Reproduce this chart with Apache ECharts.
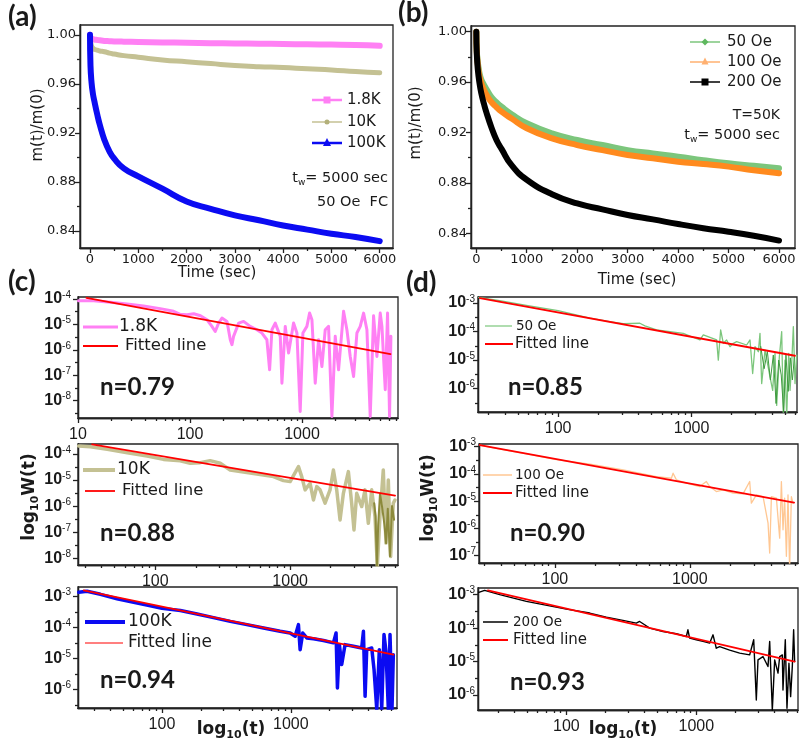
<!DOCTYPE html>
<html><head><meta charset="utf-8">
<script src="https://cdn.jsdelivr.net/npm/echarts@6/dist/echarts.min.js"></script>
<style>html,body{margin:0;padding:0;background:#fff}#c{width:803px;height:743px}</style>
</head><body><div id="c"></div><script>
// ---------------- DATA ----------------
// (a) relaxation at different temperatures, t_w = 5000 s, 50 Oe FC
const timeA = [0, 10, 30, 60, 100, 150, 200, 300, 400, 500, 700, 1000, 1500, 2000, 2500, 3000, 3500, 4000, 4500, 5000, 5500, 6000];
const m_1p8K = [1.000, 0.998, 0.997, 0.9965, 0.996, 0.9958, 0.9955, 0.995, 0.9948, 0.9946, 0.9944, 0.9942, 0.9938, 0.9935, 0.9932, 0.993, 0.9927, 0.9925, 0.9922, 0.992, 0.9917, 0.991];
const m_10K = [1.000, 0.995, 0.991, 0.989, 0.988, 0.9875, 0.9868, 0.9862, 0.985, 0.9843, 0.983, 0.9817, 0.9795, 0.978, 0.9765, 0.975, 0.974, 0.9733, 0.9722, 0.9713, 0.970, 0.969];
const m_100K = [1.000, 0.975, 0.962, 0.952, 0.944, 0.935, 0.927, 0.914, 0.905, 0.899, 0.891, 0.8845, 0.8744, 0.864, 0.858, 0.8526, 0.8486, 0.8444, 0.841, 0.8376, 0.835, 0.8316];
// (b) relaxation at T = 50 K for different fields
const timeB = [0, 10, 30, 60, 100, 150, 200, 300, 400, 500, 700, 1000, 1500, 2000, 2500, 3000, 3500, 4000, 4500, 5000, 5500, 6000];
const m_50Oe = [1.000, 0.985, 0.976, 0.968, 0.962, 0.958, 0.9545, 0.948, 0.944, 0.9405, 0.9345, 0.9273, 0.9193, 0.914, 0.910, 0.906, 0.9033, 0.9008, 0.898, 0.8955, 0.8935, 0.8916];
const m_100Oe = [1.000, 0.984, 0.974, 0.965, 0.959, 0.954, 0.950, 0.944, 0.940, 0.9365, 0.931, 0.9233, 0.9153, 0.910, 0.906, 0.9021, 0.8995, 0.8968, 0.895, 0.8929, 0.890, 0.8876];
const m_200Oe = [1.000, 0.982, 0.970, 0.960, 0.951, 0.943, 0.936, 0.924, 0.914, 0.907, 0.894, 0.8825, 0.871, 0.8637, 0.859, 0.8545, 0.851, 0.8473, 0.844, 0.8412, 0.838, 0.8342];
const timeTicks = [0, 1000, 2000, 3000, 4000, 5000, 6000];
const timeMinor = [500, 1500, 2500, 3500, 4500, 5500];
const mTicks = [0.84, 0.88, 0.92, 0.96, 1.00];
const mMinor = [0.86, 0.90, 0.94, 0.98];

// (c) relaxation rate W(t), pairs [t, W]
const w_1p8K = [[10.1,8.6e-5],[13.8,8.5e-5],[19.5,7.4e-5],[27.4,6.4e-5],[38.5,5.3e-5],[54.3,4.2e-5],[71.5,3.3e-5],[81.8,2.5e-5],[94,2.41e-5],[108,2.64e-5],[124,2.2e-5],[142,1.53e-5],[157,8.4e-6],[168,5.3e-6],[180,1.13e-5],[193,1.78e-5],[214,1.32e-5],[229,2.5e-6],[237,1.6e-6],[245,3.4e-6],[272,1.13e-5],[301,1.32e-5],[345,8.4e-6],[396,6.2e-6],[439,4.6e-6],[486,2.5e-6],[514,1.65e-7],[539,6.2e-6],[577,1.13e-5],[597,1.32e-5],[640,3.4e-6],[662,4.9e-8],[709,8.4e-6],[759,7.5e-7],[841,1.13e-5],[901,4.6e-6],[964,3.8e-9],[1019,4.6e-6],[1106,8.4e-6],[1169,2.8e-5],[1227,1.53e-5],[1313,4.9e-8],[1406,2.5e-6],[1506,2.2e-7],[1613,6.2e-6],[1727,8.4e-6],[1850,2.4e-9],[1981,3.4e-6],[2122,1.65e-7],[2351,3.3e-5],[2518,6.2e-6],[2697,5.5e-7],[2889,9e-8],[3093,4.6e-6],[3313,8.4e-6],[3548,2.8e-5],[3800,6.2e-6],[4068,2.4e-9],[4357,2.2e-5],[4667,5.5e-7],[4998,2.8e-5],[5174,8.4e-6],[5540,2.7e-8],[5808,2.8e-5],[6053,2.4e-9],[6223,3.4e-6]];
const fit_1p8K = [[11.9,1.1e-4],[6170,6.8e-7]];
const w_10K = [[27,2.03e-4],[33,1.91e-4],[44,1.51e-4],[62,1.12e-4],[87,8.4e-5],[115,6.2e-5],[153,5.5e-5],[182,4.4e-5],[215,4.65e-5],[255,5.55e-5],[303,4.4e-5],[359,2.44e-5],[477,1.93e-5],[634,1.57e-5],[752,1.35e-5],[892,9.5e-6],[1000,8.7e-6],[1153,3.27e-5],[1219,1.35e-5],[1291,4.2e-6],[1406,7.5e-6],[1489,1.72e-6],[1575,5.6e-6],[1667,4.2e-6],[1816,1.29e-6],[1977,4.2e-6],[2094,2.44e-5],[2215,4.2e-6],[2345,2.95e-7],[2483,3.1e-6],[2704,2.1e-5],[2860,1.29e-6],[2976,1.22e-7],[3117,3.1e-6],[3396,9.6e-7],[3593,4.2e-6],[3802,2.2e-7],[4027,4.2e-6],[4260,4.0e-7],[4433,4.8e-9],[4637,4.0e-7],[4909,2.44e-5],[5138,3.8e-8],[5348,1.0e-5],[5564,1.16e-8],[5821,1.29e-6],[5987,1.72e-6]];
const w_10K_dark = [[4200,1.3e-6],[4300,4e-7],[4400,5e-9],[4500,2e-7],[4640,3e-6],[4800,1e-6],[5000,2e-7],[5150,3.8e-8],[5300,8e-7],[5500,1.2e-8],[5700,1e-6],[5900,3e-7]];
const fit_10K = [[34,2.35e-4],[6000,2.53e-6]];
const w_100K = [[22.6,1.35e-3],[26.2,1.46e-3],[33.3,1.16e-3],[44.8,8.4e-4],[60.3,6.4e-4],[81.3,5.0e-4],[100,4.1e-4],[139,3.5e-4],[187,2.71e-4],[251,2.07e-4],[339,1.57e-4],[456,1.23e-4],[614,9.6e-5],[826,7.5e-5],[988,6.6e-5],[1081,5.2e-5],[1146,1.23e-4],[1181,1.93e-5],[1238,6.6e-5],[1330,4.6e-5],[1500,4.3e-5],[1792,3.8e-5],[2142,3.2e-5],[2245,6.6e-5],[2300,1.13e-6],[2382,2.8e-5],[2483,6.4e-6],[2636,2.8e-5],[3062,2.47e-5],[3550,2.19e-5],[3660,7.5e-5],[3771,6.1e-7],[3882,1.93e-5],[4246,2.19e-5],[4426,4.4e-6],[4645,2.3e-7],[4864,1.93e-5],[5075,2.3e-7],[5287,5.9e-5],[5478,1.71e-5],[5715,2.3e-7],[5888,5.9e-5],[6099,2.3e-7],[6247,1.33e-5]];
const fit_100K = [[24.7,1.56e-3],[6250,1.33e-5]];
// (d)
const w_50Oe = [[25.4,1.58e-3],[36.5,1.21e-3],[57.9,8.3e-4],[100,5.4e-4],[173,2.94e-4],[244,2.25e-4],[308,1.9e-4],[410,1.96e-4],[447,1.58e-4],[547,1.14e-4],[689,9.98e-5],[867,8.7e-5],[1156,5.07e-5],[1225,7.6e-5],[1542,5.07e-5],[1587,9.97e-6],[1652,1.14e-4],[1730,3.87e-5],[1832,5.07e-5],[1941,2.95e-5],[2056,3.87e-5],[2178,4.43e-5],[2588,3.38e-5],[2742,5.07e-5],[2871,3.37e-6],[2989,2.95e-5],[3166,1.96e-5],[3258,8.7e-5],[3354,1.5e-6],[3553,2.25e-5],[3873,2.58e-6],[4055,8.7e-7],[4222,1.71e-5],[4345,2.58e-7],[4550,1.31e-5],[4737,9.98e-5],[4875,1.0e-7],[5017,9.97e-6],[5164,1.0e-7],[5346,1.71e-5],[5470,8.7e-7],[5630,7.6e-6],[5794,1.5e-4],[5963,1.5e-6],[6138,1.5e-5]];
const w_50Oe_dark = [[3300,3e-5],[3500,5e-6],[3700,2e-5],[3900,2e-6],[4100,1.5e-5],[4300,3e-7],[4500,1e-5],[4700,3e-6],[4900,1.5e-7],[5100,1.5e-5],[5300,8e-7],[5500,1.2e-5],[5700,2e-6],[5900,1.3e-5]];
const fit_50Oe = [[25.9,1.5e-3],[5957,1.42e-5]];
const w_100Oe = [[27.8,1.15e-3],[39.2,8.2e-4],[61.6,5.4e-4],[100,3.44e-4],[182,2.3e-4],[321,1.40e-4],[566,8.0e-5],[731,6.95e-5],[752,1.06e-4],[796,6.04e-5],[944,4.56e-5],[1185,3.44e-5],[1327,5.25e-5],[1406,3.44e-5],[1575,2.26e-5],[1766,2.6e-5],[2094,1.96e-5],[2483,1.86e-5],[2780,5.25e-5],[2860,8.45e-6],[3117,1.71e-5],[3493,1.48e-5],[3802,1.57e-6],[3910,1.25e-7],[4027,1.48e-5],[4385,1.29e-5],[4637,4.4e-7],[4775,5.25e-5],[4909,8.95e-7],[5047,1.29e-5],[5200,9.5e-8],[5346,1.71e-5],[5495,3.1e-8],[5662,1.48e-5],[5821,8.45e-6]];
const fit_100Oe = [[27.8,1.15e-3],[5930,8.9e-6]];
const w_200Oe = [[21.2,1.17e-3],[23.5,1.35e-3],[30.7,1.0e-3],[49.2,6.3e-4],[100,3.7e-4],[151,2.82e-4],[203,2.14e-4],[272,1.70e-4],[345,1.41e-4],[366,1.58e-4],[400,1.26e-4],[437,1.0e-4],[554,7.9e-5],[701,6.8e-5],[837,5.6e-5],[861,8.9e-5],[887,5.0e-5],[998,4.5e-5],[1124,4.0e-5],[1265,3.55e-5],[1343,6.3e-5],[1423,2.5e-5],[1510,2.8e-5],[1803,2.2e-5],[2153,1.78e-5],[2570,1.58e-5],[2761,4.5e-5],[2891,7.1e-7],[2979,1.12e-5],[3253,1.41e-5],[3556,7.1e-6],[3664,4.0e-5],[3839,3.5e-7],[4002,1.12e-5],[4245,4.5e-6],[4374,1.41e-5],[4583,1.58e-5],[4637,1.41e-6],[4831,4.5e-5],[4977,4.0e-7],[5153,8.9e-6],[5309,8.9e-7],[5470,7.1e-6],[5600,8.9e-5],[5699,1.0e-5]];
const fit_200Oe = [[24.9,1.35e-3],[5700,1.0e-5]];
const logXMajor = [10, 100, 1000];
const logXMinor = [20,30,40,50,60,70,80,90,200,300,400,500,600,700,800,900,2000,3000,4000,5000,6000,7000];

// ---------------- STYLE / LAYOUT ----------------
const FD = 'DejaVu Sans', FL = 'Liberation Sans', FB = 'Lato';
const INK = '#1a1a1a';
const C = {pink:'#ff80f4', tan:'#c4c193', darkOlive:'#8c8a3c', blue:'#0b0bf2', green:'#7cc67c', darkGreen:'#3f9a3f', orange:'#ff8a1e', lorange:'#ffc793', black:'#000', red:'#ff0000'};

const grids = [], xAxes = [], yAxes = [], series = [];
function pw(a, b) { return Math.pow(10, a + (b || 0)); }

function addPanel(p) {
  const gi = grids.length;
  grids.push({left: p.l, top: p.t, width: p.r - p.l, height: p.b - p.t, show: true, borderColor: '#222', borderWidth: 1.3});
  grids.push({left: p.l, top: p.t, width: p.r - p.l, height: p.b - p.t, show: false});
  const type = p.log ? 'log' : 'value';
  const ax = (gidx, min, max, ticks, len, label) => ({
    gridIndex: gidx, type: type, min: min, max: max,
    axisLine: {show: true, onZero: false, lineStyle: {color: '#222', width: 1.3}},
    splitLine: {show: false},
    axisTick: {show: true, length: len, customValues: ticks.slice(), lineStyle: {color: '#222', width: 1.3}},
    axisLabel: label ? Object.assign({customValues: ticks.slice()}, label) : {show: false}
  });
  xAxes.push(ax(gi, p.xmin, p.xmax, p.xt, 5, {margin: p.xm, fontFamily: p.log ? FL : FD, fontSize: p.log ? 16 : 13, color: INK, formatter: v => String(Math.round(v))}));
  xAxes.push(ax(gi + 1, p.xmin, p.xmax, p.xmi, 3, null));
  yAxes.push(ax(gi, p.ymin, p.ymax, p.yt, 5, p.log ? {margin: p.ym, color: INK,
        formatter: v => '{b|10}{s|' + Math.round(Math.log10(v)) + '}',
        rich: {b: {fontFamily: FL, fontSize: 16, fontWeight: 'bold', color: INK, lineHeight: 18},
               s: {fontFamily: FL, fontSize: 10, color: INK, verticalAlign: 'top', lineHeight: 11}}}
      : {margin: p.ym, fontFamily: FD, fontSize: 13, color: INK, formatter: v => v.toFixed(2)}));
  yAxes.push(ax(gi + 1, p.ymin, p.ymax, p.ymi, 3, null));
  p.series.forEach(s => {
    series.push({type: 'line', xAxisIndex: gi, yAxisIndex: gi, data: s.data, symbol: 'none', showSymbol: false,
      smooth: !!s.smooth, clip: true, silent: true, z: s.z || 2,
      lineStyle: {color: s.color, width: s.width, join: 'round', cap: 'round'}});
  });
}
const zipXY = (xs, ys) => xs.map((x, i) => [x, ys[i]]);
const inRange = (arr, lo, hi) => arr.filter(v => v >= lo && v <= hi);

addPanel({l: 80, t: 25, r: 393, b: 248, xmin: -207, xmax: 6275, ymin: 0.826, ymax: 1.008, xt: timeTicks, xmi: timeMinor, yt: mTicks, ymi: mMinor, xm: 5, ym: 4,
  series: [
    {data: zipXY(timeA, m_1p8K), color: C.pink, width: 6, smooth: true},
    {data: zipXY(timeA, m_10K), color: C.tan, width: 5, smooth: true},
    {data: zipXY(timeA, m_100K), color: C.blue, width: 6, smooth: true}]});
addPanel({l: 471, t: 26, r: 795, b: 248, xmin: -105, xmax: 6317, ymin: 0.8283, ymax: 1.0045, xt: timeTicks, xmi: timeMinor, yt: mTicks, ymi: mMinor, xm: 5, ym: 4,
  series: [
    {data: zipXY(timeB, m_50Oe), color: C.green, width: 6, smooth: true},
    {data: zipXY(timeB, m_100Oe), color: C.orange, width: 6, smooth: true},
    {data: zipXY(timeB, m_200Oe), color: C.black, width: 6, smooth: true}]});

function logPanel(p, lines) {
  p.log = true;
  p.xt = inRange(logXMajor, p.xmin, p.xmax);
  p.xmi = inRange(logXMinor, p.xmin, p.xmax);
  const lo = Math.ceil(Math.log10(p.ymin) - 1e-9), hi = Math.floor(Math.log10(p.ymax) + 1e-9);
  p.yt = []; p.ymi = [];
  for (let e = hi; e >= lo; e--) p.yt.push(pw(e));
  for (let e = hi; e >= lo - 1; e--) { const v = pw(e, -0.5); if (v > p.ymin && v < p.ymax) p.ymi.push(v); }
  p.series = lines;
  addPanel(p);
}
logPanel({l: 78, t: 297, r: 398, b: 418, xmin: 10, xmax: 7200, ymin: pw(-8.68), ymax: pw(-3.92), xm: 9, ym: 7},
  [{data: w_1p8K, color: C.pink, width: 3}, {data: fit_1p8K, color: C.red, width: 1.8, z: 3}]);
logPanel({l: 78, t: 444, r: 398, b: 565, xmin: 26.7, xmax: 6310, ymin: pw(-8.26), ymax: pw(-3.617), xm: 9, ym: 7},
  [{data: w_10K, color: C.tan, width: 3.5}, {data: w_10K_dark, color: C.darkOlive, width: 2}, {data: fit_10K, color: C.red, width: 1.8, z: 3}]);
logPanel({l: 78, t: 587, r: 397, b: 708, xmin: 22.3, xmax: 6670, ymin: pw(-6.59), ymax: pw(-2.70), xm: 9, ym: 7},
  [{data: w_100K, color: C.blue, width: 3.5}, {data: fit_100K, color: C.red, width: 1.8, z: 3}]);
logPanel({l: 478, t: 297, r: 797, b: 412, xmin: 25.1, xmax: 6170, ymin: pw(-6.82), ymax: pw(-2.788), xm: 9, ym: 3},
  [{data: w_50Oe, color: C.green, width: 1.3}, {data: w_50Oe_dark, color: C.darkGreen, width: 1}, {data: fit_50Oe, color: C.red, width: 1.8, z: 3}]);
logPanel({l: 479, t: 444, r: 798, b: 563, xmin: 27.4, xmax: 6340, ymin: pw(-7.268), ymax: pw(-2.902), xm: 9, ym: 3},
  [{data: w_100Oe, color: C.lorange, width: 1.3}, {data: fit_100Oe, color: C.red, width: 1.8, z: 3}]);
logPanel({l: 478, t: 588, r: 798, b: 710, xmin: 20.9, xmax: 6050, ymin: pw(-6.45), ymax: pw(-2.80), xm: 9, ym: 3},
  [{data: w_200Oe, color: C.black, width: 1.4}, {data: fit_200Oe, color: C.red, width: 1.8, z: 3}]);

// ---------------- TEXT / LEGENDS (graphic) ----------------
const G = [];
function txt(text, x, y, o) {
  o = o || {};
  G.push({type: 'text', x: x, y: y, rotation: o.rot || 0, z: 100,
    style: {text: text, x: 0, y: 0, fill: o.color || INK, align: o.align || 'left', verticalAlign: 'middle',
      fontFamily: o.ff || FD, fontSize: o.fs || 15, fontWeight: o.fw || 'normal', rich: o.rich}});
}
function seg(x1, y1, x2, y2, color, w) {
  G.push({type: 'line', z: 100, shape: {x1, y1, x2, y2}, style: {stroke: color, lineWidth: w}});
}
function mark(kind, cx, cy, s, color) {
  if (kind === 'rect') G.push({type: 'rect', z: 101, shape: {x: cx - s / 2, y: cy - s / 2, width: s, height: s}, style: {fill: color}});
  else if (kind === 'circle') G.push({type: 'circle', z: 101, shape: {cx, cy, r: s / 2}, style: {fill: color}});
  else if (kind === 'tri') G.push({type: 'polygon', z: 101, shape: {points: [[cx, cy - s / 2], [cx + s / 2, cy + s / 2], [cx - s / 2, cy + s / 2]]}, style: {fill: color}});
  else if (kind === 'dia') G.push({type: 'polygon', z: 101, shape: {points: [[cx, cy - s / 2], [cx + s / 2, cy], [cx, cy + s / 2], [cx - s / 2, cy]]}, style: {fill: color}});
}
const subRich = (fs, fw) => ({a: {fontFamily: FD, fontSize: fs, fontWeight: fw || 'normal', color: INK, lineHeight: fs + 4},
  s: {fontFamily: FD, fontSize: Math.round(fs * 0.65), fontWeight: fw || 'normal', color: INK, verticalAlign: 'bottom', lineHeight: fs + 2}});

txt('(a)', 8, 17, {ff: FB, fs: 28, fw: 'bold'});
txt('(b)', 398, 13, {ff: FB, fs: 28, fw: 'bold'});
txt('(c)', 8, 282, {ff: FB, fs: 28, fw: 'bold'});
txt('(d)', 406, 283, {ff: FB, fs: 28, fw: 'bold'});

txt('m(t)/m(0)', 38, 125, {fs: 15, rot: Math.PI / 2, align: 'center'});
txt('m(t)/m(0)', 416, 123, {fs: 15, rot: Math.PI / 2, align: 'center'});
txt('Time (sec)', 217, 273, {fs: 15, align: 'center'});
txt('Time (sec)', 637, 280, {fs: 15, align: 'center'});
txt('{a|log}{s|10}{a|W(t)}', 30, 497, {rot: Math.PI / 2, align: 'center', rich: subRich(17, 'bold')});
txt('{a|log}{s|10}{a|W(t)}', 429, 498, {rot: Math.PI / 2, align: 'center', rich: subRich(17, 'bold')});
txt('{a|log}{s|10}{a|(t)}', 231, 730, {align: 'center', rich: subRich(17, 'bold')});
txt('{a|log}{s|10}{a|(t)}', 623, 730, {align: 'center', rich: subRich(17, 'bold')});

seg(312, 100, 342, 100, C.pink, 2.5); mark('rect', 327, 100, 7, C.pink); txt('1.8K', 347, 100, {fs: 15});
seg(312, 122, 342, 122, C.tan, 1.5); mark('circle', 327, 122, 5, '#b3b07a'); txt('10K', 347, 122, {fs: 15});
seg(312, 143, 342, 143, C.blue, 2.5); mark('tri', 327, 142, 8, C.blue); txt('100K', 347, 143, {fs: 15});
txt('{a|t}{s|w}{a|= 5000 sec}', 388, 178, {align: 'right', rich: subRich(14.5)});
txt('50 Oe  FC', 388, 202, {fs: 14.5, align: 'right'});
seg(690, 42, 720, 42, C.green, 1.5); mark('dia', 705, 42, 7, '#5fb85f'); txt('50 Oe', 727, 42, {fs: 15});
seg(690, 62, 720, 62, '#ffb070', 1.5); mark('tri', 705, 61, 7, '#ffb070'); txt('100 Oe', 727, 62, {fs: 15});
seg(690, 82, 720, 82, C.black, 1.5); mark('rect', 705, 82, 7, C.black); txt('200 Oe', 727, 82, {fs: 15});
txt('T=50K', 780, 115, {fs: 14, align: 'right'});
txt('{a|t}{s|w}{a|= 5000 sec}', 780, 135, {align: 'right', rich: subRich(14.5)});

seg(83, 327, 118, 327, C.pink, 3); txt('1.8K', 119, 327, {fs: 17});
seg(83, 346, 118, 346, C.red, 1.8); txt('Fitted line', 125, 346, {fs: 16.5});
seg(83, 470, 115, 470, C.tan, 4); txt('10K', 117, 470, {fs: 17});
seg(85, 491, 115, 491, C.red, 1.8); txt('Fitted line', 122, 491, {fs: 16.5});
seg(85, 622, 125, 622, C.blue, 4); txt('100K', 128, 622, {fs: 17});
seg(85, 643, 123, 643, C.red, 1.2); txt('Fitted line', 128, 643, {fs: 17});
seg(485, 326, 512, 326, C.green, 1.2); txt('50 Oe', 516, 326, {fs: 13.5});
seg(485, 344, 513, 344, C.red, 2); txt('Fitted line', 515, 344, {fs: 15});
seg(483, 475, 512, 475, C.lorange, 1.5); txt('100 Oe', 515, 475, {fs: 13.5});
seg(483, 493, 512, 493, C.red, 2); txt('Fitted line', 515, 493, {fs: 15});
seg(483, 622, 508, 622, C.black, 1.5); txt('200 Oe', 513, 622, {fs: 13.5});
seg(483, 640, 508, 640, C.red, 2); txt('Fitted line', 513, 640, {fs: 15});

txt('n=0.79', 100, 387, {ff: FB, fs: 24, fw: 'bold'});
txt('n=0.88', 100, 533, {ff: FB, fs: 24, fw: 'bold'});
txt('n=0.94', 100, 680, {ff: FB, fs: 24, fw: 'bold'});
txt('n=0.85', 508, 387, {ff: FB, fs: 24, fw: 'bold'});
txt('n=0.90', 510, 533, {ff: FB, fs: 24, fw: 'bold'});
txt('n=0.93', 510, 682, {ff: FB, fs: 24, fw: 'bold'});

const chart = echarts.init(document.getElementById('c'), null, {renderer: 'canvas', width: 803, height: 743});
chart.setOption({animation: false, backgroundColor: '#fff', grid: grids, xAxis: xAxes, yAxis: yAxes, series: series, graphic: G});
</script></body></html>
